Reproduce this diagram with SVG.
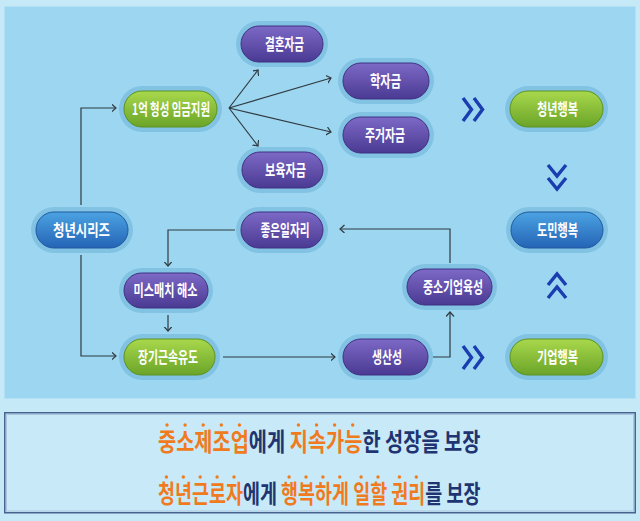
<svg xmlns="http://www.w3.org/2000/svg" width="640" height="521" viewBox="0 0 640 521">
<defs>
<linearGradient id="gp" x1="0" y1="0" x2="0" y2="1"><stop offset="0" stop-color="#7d69c6"/><stop offset="1" stop-color="#4a3a93"/></linearGradient>
<linearGradient id="gg" x1="0" y1="0" x2="0" y2="1"><stop offset="0" stop-color="#a9d84c"/><stop offset="1" stop-color="#6aa428"/></linearGradient>
<linearGradient id="gb" x1="0" y1="0" x2="0" y2="1"><stop offset="0" stop-color="#4ba3e2"/><stop offset="1" stop-color="#2564b6"/></linearGradient>
<marker id="ah" markerWidth="8" markerHeight="9" refX="4.5" refY="4" orient="auto" markerUnits="userSpaceOnUse"><path d="M0,0 L4.5,4 L0,8" fill="none" stroke="#2f3a40" stroke-width="1.2"/></marker>
</defs>
<style>
.halo{fill:#82c3e3}
.p{fill:url(#gp);stroke:#3e3182;stroke-width:1}
.g{fill:url(#gg);stroke:#5d921f;stroke-width:1}
.b{fill:url(#gb);stroke:#1f589f;stroke-width:1}
.t{font-family:"Noto Sans CJK KR","Noto Sans",sans-serif;font-weight:700;font-size:16px;fill:#ffffff;text-anchor:middle}
.c{fill:none;stroke:#2f3a40;stroke-width:1.2}
.ch{fill:none;stroke:#1a3db0;stroke-width:3.4}
.bt{font-family:"Noto Sans CJK KR","Noto Sans",sans-serif;font-weight:700;font-size:25px;fill:#1f3470}
.o{fill:#f07a1e}
.dot{fill:#f07a1e}
</style>
<rect x="0" y="0" width="640" height="521" fill="#c6e9f7"/>
<rect x="4.5" y="6.5" width="631" height="392" fill="#9dd6f0" stroke="#b4e0f4" stroke-width="1"/>

<g id="connectors">
<path class="c" d="M81,205 V108 H116" marker-end="url(#ah)"/>
<path class="c" d="M81,255 V356 H116" marker-end="url(#ah)"/>
<path class="c" d="M229,108 L258,70" marker-end="url(#ah)"/>
<path class="c" d="M229,108 L258,146" marker-end="url(#ah)"/>
<path class="c" d="M229,108 L331,78" marker-end="url(#ah)"/>
<path class="c" d="M229,108 L331,132" marker-end="url(#ah)"/>
<path class="c" d="M235,230 H168 V266" marker-end="url(#ah)"/>
<path class="c" d="M168,315 V331" marker-end="url(#ah)"/>
<path class="c" d="M223,357 H335" marker-end="url(#ah)"/>
<path class="c" d="M433,357 H450 V312" marker-end="url(#ah)"/>
<path class="c" d="M450,263 V229 H340" marker-end="url(#ah)"/>
</g>

<g id="chevrons">
<path class="ch" d="M463,98 L471.5,109.5 L463,121 M474,98 L482.5,109.5 L474,121"/>
<path class="ch" d="M463,346 L471.5,357.5 L463,369 M474,346 L482.5,357.5 L474,369"/>
<path class="ch" d="M548,165 L557,176 L566,165 M548,178 L557,189 L566,178"/>
<path class="ch" d="M548,285 L557,274 L566,285 M548,298 L557,287 L566,298"/>
</g>

<g id="n-gyeolhon"><rect class="halo" x="236" y="21" width="92" height="46" rx="23"/><rect class="p" x="241" y="26" width="82" height="36" rx="18"/><text class="t" x="284.5" y="49.8" textLength="39" lengthAdjust="spacingAndGlyphs">결혼자금</text></g>
<g id="n-1eok"><rect class="halo" x="119" y="86" width="103" height="46" rx="23"/><rect class="g" x="124" y="91" width="93" height="36" rx="18"/><text class="t" x="171" y="114.8" textLength="78" lengthAdjust="spacingAndGlyphs">1억 형성 임금지원</text></g>
<g id="n-hak"><rect class="halo" x="338" y="58" width="96" height="46" rx="23"/><rect class="p" x="343" y="63" width="86" height="36" rx="18"/><text class="t" x="385.5" y="86.8" textLength="31" lengthAdjust="spacingAndGlyphs">학자금</text></g>
<g id="n-jugeo"><rect class="halo" x="338" y="112" width="96" height="46" rx="23"/><rect class="p" x="343" y="117" width="86" height="36" rx="18"/><text class="t" x="385" y="140.8" textLength="40" lengthAdjust="spacingAndGlyphs">주거자금</text></g>
<g id="n-boyuk"><rect class="halo" x="237" y="147" width="91" height="46" rx="23"/><rect class="p" x="242" y="152" width="81" height="36" rx="18"/><text class="t" x="285.5" y="175.8" textLength="41" lengthAdjust="spacingAndGlyphs">보육자금</text></g>
<g id="n-cheongnyeon-hb"><rect class="halo" x="505" y="86" width="103" height="46" rx="23"/><rect class="g" x="510" y="91" width="93" height="36" rx="18"/><text class="t" x="557.5" y="114.8" textLength="41" lengthAdjust="spacingAndGlyphs">청년행복</text></g>
<g id="n-series"><rect class="halo" x="31" y="207" width="102" height="46" rx="23"/><rect class="b" x="36" y="212" width="92" height="36" rx="18"/><text class="t" x="81.5" y="235.8" textLength="57" lengthAdjust="spacingAndGlyphs">청년시리즈</text></g>
<g id="n-joeun"><rect class="halo" x="236" y="207" width="92" height="46" rx="23"/><rect class="p" x="241" y="212" width="82" height="36" rx="18"/><text class="t" x="285" y="235.8" textLength="49" lengthAdjust="spacingAndGlyphs">좋은일자리</text></g>
<g id="n-mismatch"><rect class="halo" x="119" y="268" width="94" height="45" rx="22.5"/><rect class="p" x="124" y="273" width="84" height="35" rx="17.5"/><text class="t" x="165.5" y="296.3" textLength="64" lengthAdjust="spacingAndGlyphs">미스매치 해소</text></g>
<g id="n-janggi"><rect class="halo" x="119" y="334" width="101" height="46" rx="23"/><rect class="g" x="124" y="339" width="91" height="36" rx="18"/><text class="t" x="168" y="362.8" textLength="60" lengthAdjust="spacingAndGlyphs">장기근속유도</text></g>
<g id="n-domin"><rect class="halo" x="506" y="207" width="102" height="46" rx="23"/><rect class="b" x="511" y="212" width="92" height="36" rx="18"/><text class="t" x="557.5" y="235.8" textLength="41" lengthAdjust="spacingAndGlyphs">도민행복</text></g>
<g id="n-jungso"><rect class="halo" x="402" y="264" width="95" height="46" rx="23"/><rect class="p" x="407" y="269" width="85" height="36" rx="18"/><text class="t" x="453" y="292.8" textLength="60" lengthAdjust="spacingAndGlyphs">중소기업육성</text></g>
<g id="n-saengsan"><rect class="halo" x="338" y="334" width="95" height="46" rx="23"/><rect class="p" x="343" y="339" width="85" height="36" rx="18"/><text class="t" x="387" y="362.8" textLength="30" lengthAdjust="spacingAndGlyphs">생산성</text></g>
<g id="n-gieop"><rect class="halo" x="505" y="334" width="103" height="46" rx="23"/><rect class="g" x="510" y="339" width="93" height="36" rx="18"/><text class="t" x="557.5" y="362.8" textLength="41" lengthAdjust="spacingAndGlyphs">기업행복</text></g>

<g id="summary">
<rect x="4.75" y="412.75" width="630.5" height="100" fill="#c8eaf8" stroke="#47628f" stroke-width="1.5"/>
<rect x="6.5" y="414.5" width="627" height="96.5" fill="none" stroke="#a9c4dc" stroke-width="1"/>
<g transform="translate(158,451) scale(0.791,1)"><text class="bt" x="0" y="0"><tspan class="o">중소제조업</tspan>에게 <tspan class="o">지속가능</tspan>한 성장을 보장</text></g>
<g transform="translate(158,503) scale(0.7385,1)"><text class="bt" x="0" y="0"><tspan class="o">청년근로자</tspan>에게 <tspan class="o">행복하게 일할 권리</tspan>를 보장</text></g>
<g class="dot">
<circle cx="167" cy="425" r="1.7"/><circle cx="185.1" cy="425" r="1.7"/><circle cx="203.2" cy="425" r="1.7"/><circle cx="221.3" cy="425" r="1.7"/><circle cx="239.4" cy="425" r="1.7"/>
<circle cx="298.4" cy="425" r="1.7"/><circle cx="316.5" cy="425" r="1.7"/><circle cx="334.6" cy="425" r="1.7"/><circle cx="352.7" cy="425" r="1.7"/>
<circle cx="166.4" cy="477" r="1.7"/><circle cx="183.3" cy="477" r="1.7"/><circle cx="200.2" cy="477" r="1.7"/><circle cx="217.1" cy="477" r="1.7"/><circle cx="234" cy="477" r="1.7"/>
<circle cx="289.1" cy="477" r="1.7"/><circle cx="306" cy="477" r="1.7"/><circle cx="322.9" cy="477" r="1.7"/><circle cx="339.8" cy="477" r="1.7"/>
<circle cx="361.1" cy="477" r="1.7"/><circle cx="378" cy="477" r="1.7"/>
<circle cx="399.4" cy="477" r="1.7"/><circle cx="416.3" cy="477" r="1.7"/>
</g>
</g>
</svg>
